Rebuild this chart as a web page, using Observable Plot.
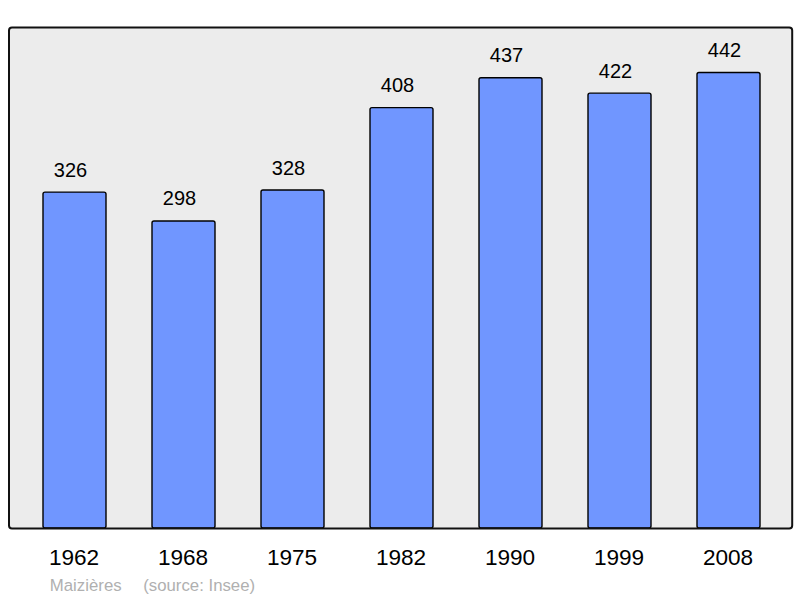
<!DOCTYPE html>
<html>
<head>
<meta charset="utf-8">
<script src="https://cdn.jsdelivr.net/npm/d3@7"></script>
<script src="https://cdn.jsdelivr.net/npm/@observablehq/plot@0.6"></script>
<style>
  body { margin: 0; background: #fff; }
  svg { display: block; font-family: "Liberation Sans", Arial, sans-serif; }
</style>
</head>
<body>
<div id="chart"></div>
<script>
const years = ["1962", "1968", "1975", "1982", "1990", "1999", "2008"];
const population = [326, 298, 328, 408, 437, 422, 442];
const place = "Maizières";
const source = "(source: Insee)";

const data = years.map((y, i) => ({year: y, value: population[i]}));
const yMax = d3.max(population) * 1.1;

const chart = Plot.plot({
  width: 800,
  height: 598,
  marginTop: 27,
  marginBottom: 70,
  marginLeft: 8.5,
  marginRight: 8.3,
  style: {fontFamily: "'Liberation Sans', Arial, sans-serif", background: "#fff"},
  x: {domain: years, range: [41.2, 761.1], paddingInner: 0.4244, paddingOuter: 0, axis: null},
  y: {domain: [0, yMax], axis: null},
  marks: [
    Plot.frame({fill: "#ececec", stroke: null, rx: 3}),
    Plot.barY(data, {x: "year", y: "value", fill: "#7096ff", stroke: "#000", strokeWidth: 1.4, rx: 2}),
    Plot.frame({stroke: "#111", strokeWidth: 2, rx: 3}),
    Plot.text(data, {x: "year", y: "value", text: d => String(d.value), lineAnchor: "bottom", dx: -4.5, dy: -16, fontSize: 20, fill: "#000"}),
    Plot.text(data, {x: "year", text: "year", frameAnchor: "bottom", lineAnchor: "bottom", dx: -1, dy: 36.5, fontSize: 22.6, fill: "#000"}),
    Plot.text([place], {text: d => d, frameAnchor: "bottom-left", textAnchor: "start", lineAnchor: "bottom", dx: 40.8, dy: 62.4, fontSize: 16.8, fill: "#b0b0b0"}),
    Plot.text([source], {text: d => d, frameAnchor: "bottom-left", textAnchor: "start", lineAnchor: "bottom", dx: 134.2, dy: 62.4, fontSize: 16.8, fill: "#b0b0b0"})
  ]
});
document.getElementById("chart").appendChild(chart);
</script>
</body>
</html>
